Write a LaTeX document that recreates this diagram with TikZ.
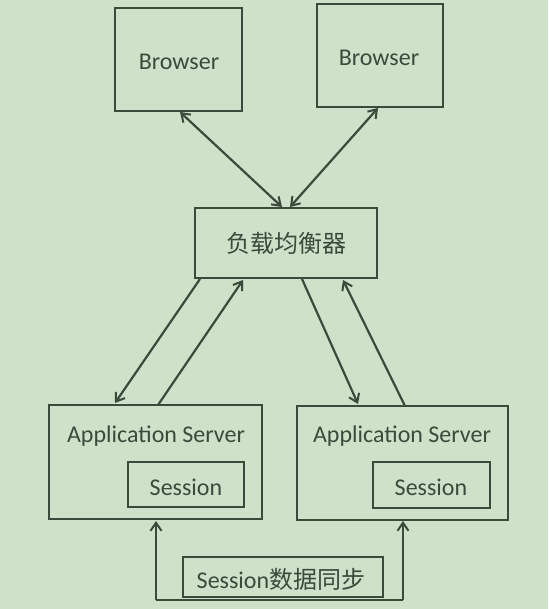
\documentclass[tikz,border=0pt]{standalone}
\usepackage{fontspec}
\setmainfont{Carlito}
\newfontfamily\cjk{Noto Sans CJK SC}
\usetikzlibrary{arrows.meta}
\definecolor{bg}{HTML}{CDE2C9}
\definecolor{ln}{HTML}{3C4A3C}
\begin{document}
\begin{tikzpicture}[x=1pt,y=-1pt,
  mytip/.tip={Straight Barb[length=8pt,width=11pt,line width=2pt]},
  box/.style={draw=ln,line width=2.4pt,inner sep=0pt,text=ln},
  conn/.style={draw=ln,line width=2.2pt,-{mytip}},
  dconn/.style={draw=ln,line width=2.2pt,{mytip}-{mytip}},
  lbl/.style={text=ln,font=\fontsize{24}{26}\selectfont,inner sep=0pt}]
\fill[bg] (0,0) rectangle (548,609);
\useasboundingbox (0,0) rectangle (548,609);
% boxes
\node[box,minimum width=127pt,minimum height=103pt] (b1) at (178.5,59.5) {};
\node[lbl] at (179,62) {Browser};
\node[box,minimum width=126pt,minimum height=103pt] (b2) at (380,55.5) {};
\node[lbl] at (379,58) {Browser};
\node[box,minimum width=182pt,minimum height=70pt] (lb) at (286,243) {};
\node[lbl,font=\cjk\fontsize{24}{26}\selectfont] at (286,243) {负载均衡器};
\node[box,minimum width=213pt,minimum height=114pt] (as1) at (155.5,462) {};
\node[lbl] at (156,436) {Application Server};
\node[box,minimum width=116pt,minimum height=45pt] (s1) at (186,484.5) {};
\node[lbl] at (186,487) {Session};
\node[box,minimum width=211pt,minimum height=114pt] (as2) at (402.5,463) {};
\node[lbl] at (402,436) {Application Server};
\node[box,minimum width=117pt,minimum height=46pt] (s2) at (431.5,485) {};
\node[lbl] at (431,487) {Session};
% connector coordinates
\coordinate (b1b) at (180,112);
\coordinate (lbt1) at (282,207);
\coordinate (lbt2) at (290,207);
\coordinate (b2b) at (378,108);
\draw[dconn] (b1b) -- (lbt1);
\draw[dconn] (lbt2) -- (b2b);
\coordinate (lbl1) at (200,279);
\coordinate (as1t1) at (115,403);
\coordinate (as1t2) at (158,405);
\coordinate (lbl2) at (243,280);
\draw[conn] (lbl1) -- (as1t1);
\draw[conn] (as1t2) -- (lbl2);
\coordinate (lbr1) at (302,279);
\coordinate (as2t1) at (358,404);
\coordinate (as2t2) at (405,406);
\coordinate (lbr2) at (343,280);
\draw[conn] (lbr1) -- (as2t1);
\draw[conn] (as2t2) -- (lbr2);
% sync
\node[box,minimum width=200pt,minimum height=40pt] (sync) at (283,577) {};
\node[lbl] at (281,579) {Session\cjk 数据同步};
\coordinate (sl) at (156,600);
\coordinate (sr) at (403,600);
\coordinate (as1b) at (156,521);
\coordinate (as2b) at (403,521);
\draw[conn] (sl) -- (as1b);
\draw[conn] (sr) -- (as2b);
\draw[draw=ln,line width=2.4pt] (sl) -- (sr);
\end{tikzpicture}
\end{document}
